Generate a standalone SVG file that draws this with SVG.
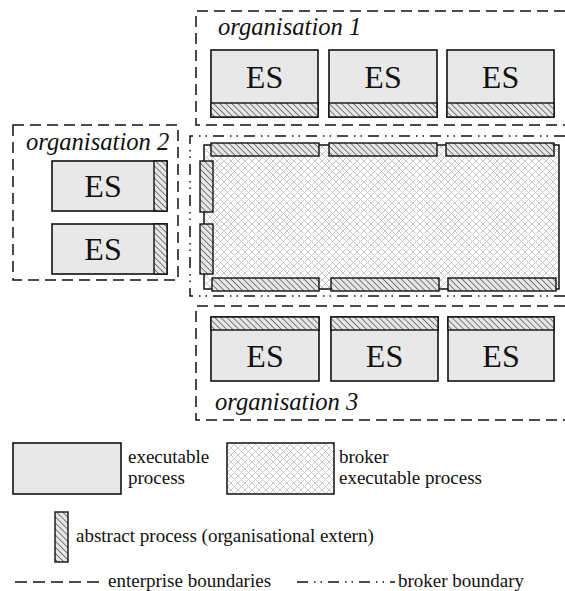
<svg xmlns="http://www.w3.org/2000/svg" width="565" height="591" viewBox="0 0 565 591">
  <defs>
    <!-- diagonal hatch for abstract processes -->
    <pattern id="hatch" width="4.3" height="4.3" patternUnits="userSpaceOnUse" patternTransform="rotate(-45)">
      <rect width="4.3" height="4.3" fill="#e6e6e6"/>
      <line x1="0" y1="0" x2="0" y2="4.3" stroke="#222" stroke-width="1.1"/>
    </pattern>
    <!-- light cross-hatch for the broker process -->
    <pattern id="cross" width="7" height="7" patternUnits="userSpaceOnUse">
      <rect width="7" height="7" fill="#fff"/>
      <path d="M0,0 L7,7 M7,0 L0,7" stroke="#c8c8c8" stroke-width="1"/>
    </pattern>
  </defs>
  <style>
    .org { fill:none; stroke:#111; stroke-width:1.5; stroke-dasharray:11 6; }
    .brk { fill:none; stroke:#111; stroke-width:1.5; stroke-dasharray:11 6 1.5 5 1.5 6; }
    .es { fill:#e8e8e8; stroke:#111; stroke-width:1.6; }
    .ap { fill:url(#hatch); stroke:#111; stroke-width:1.4; }
    .bp { fill:url(#cross); stroke:#111; stroke-width:1.5; }
    text { font-family:'Liberation Serif','DejaVu Serif',serif; }
    .lbl { font-style:italic; font-size:24.6px; fill:#111; }
    .est { font-size:32px; fill:#111; text-anchor:middle; }
    .leg { font-size:19px; fill:#111; }
  </style>

  <rect width="565" height="591" fill="#fff"/>

  <!-- boundaries -->
  <g id="boundaries">
    <path class="org" d="M565,11 H196 V125 H565"/>
    <rect class="org" x="13" y="125" width="165" height="155"/>
    <path class="brk" d="M565,136 H190 V296 H565"/>
    <path class="org" d="M565,306 H196 V420 H565"/>
  </g>

  <!-- organisation 1 -->
  <g id="organisation1">
    <text class="lbl" x="218" y="35">organisation 1</text>
    <g id="o1-es1">
      <rect class="es" x="211" y="50" width="107" height="67"/>
      <rect class="ap" x="211" y="103" width="107" height="14"/>
      <text class="est" x="264.5" y="88">ES</text>
    </g>
    <g id="o1-es2">
      <rect class="es" x="329" y="50" width="108" height="67"/>
      <rect class="ap" x="329" y="103" width="108" height="14"/>
      <text class="est" x="383" y="88">ES</text>
    </g>
    <g id="o1-es3">
      <rect class="es" x="447" y="50" width="107" height="67"/>
      <rect class="ap" x="447" y="103" width="107" height="14"/>
      <text class="est" x="500.5" y="88">ES</text>
    </g>
  </g>

  <!-- organisation 2 -->
  <g id="organisation2">
    <text class="lbl" x="26" y="150">organisation 2</text>
    <g id="o2-es1">
      <rect class="es" x="52" y="161" width="115" height="50"/>
      <rect class="ap" x="154" y="161" width="13" height="50"/>
      <text class="est" x="103" y="197">ES</text>
    </g>
    <g id="o2-es2">
      <rect class="es" x="52" y="224" width="115" height="50"/>
      <rect class="ap" x="154" y="224" width="13" height="50"/>
      <text class="est" x="103" y="260">ES</text>
    </g>
  </g>

  <!-- broker executable process with its abstract interfaces -->
  <g id="broker">
    <rect class="bp" x="204" y="145" width="355" height="144"/>
    <rect class="ap" x="211" y="143" width="108" height="13"/>
    <rect class="ap" x="329" y="143" width="108" height="13"/>
    <rect class="ap" x="446" y="143" width="108" height="13"/>
    <rect class="ap" x="212" y="278" width="107" height="13"/>
    <rect class="ap" x="331" y="278" width="108" height="13"/>
    <rect class="ap" x="448" y="278" width="108" height="13"/>
    <rect class="ap" x="200" y="161" width="13" height="51"/>
    <rect class="ap" x="200" y="224" width="13" height="50"/>
  </g>

  <!-- organisation 3 -->
  <g id="organisation3">
    <g id="o3-es1">
      <rect class="es" x="211" y="317" width="108" height="64"/>
      <rect class="ap" x="211" y="317" width="108" height="13"/>
      <text class="est" x="265" y="367">ES</text>
    </g>
    <g id="o3-es2">
      <rect class="es" x="331" y="317" width="107" height="64"/>
      <rect class="ap" x="331" y="317" width="107" height="13"/>
      <text class="est" x="384.5" y="367">ES</text>
    </g>
    <g id="o3-es3">
      <rect class="es" x="448" y="317" width="106" height="64"/>
      <rect class="ap" x="448" y="317" width="106" height="13"/>
      <text class="est" x="501" y="367">ES</text>
    </g>
    <text class="lbl" x="215" y="410">organisation 3</text>
  </g>

  <!-- legend -->
  <g id="legend">
    <rect class="es" x="13" y="443" width="108" height="51"/>
    <text class="leg" x="128" y="463">executable</text>
    <text class="leg" x="128" y="484">process</text>
    <rect class="bp" x="227" y="443" width="107" height="51"/>
    <text class="leg" x="339" y="463">broker</text>
    <text class="leg" x="339" y="484">executable process</text>
    <rect class="ap" x="55" y="512" width="13" height="50"/>
    <text class="leg" x="76" y="542">abstract process (organisational extern)</text>
    <line x1="15" y1="582" x2="100" y2="582" stroke="#111" stroke-width="1.5" stroke-dasharray="12 6"/>
    <text class="leg" x="108" y="587">enterprise boundaries</text>
    <line x1="297" y1="582" x2="395" y2="582" stroke="#111" stroke-width="1.5" stroke-dasharray="11 6 1.5 5 1.5 6"/>
    <text class="leg" x="398" y="587">broker boundary</text>
  </g>
</svg>
